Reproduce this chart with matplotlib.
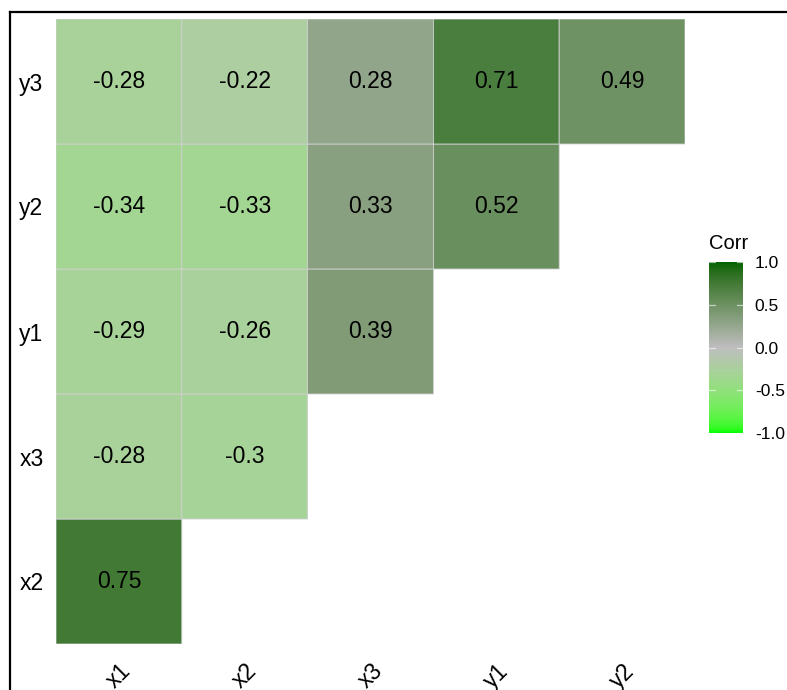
import numpy as np
import matplotlib
matplotlib.use("Agg")
import matplotlib.pyplot as plt
from matplotlib.colors import ListedColormap, to_rgb
from matplotlib.lines import Line2D

plt.rcParams["font.family"] = ["Liberation Sans", "DejaVu Sans"]

# Variables along each axis of the lower-triangle correlogram.
x_vars = ["x1", "x2", "x3", "y1", "y2"]
y_vars = ["x2", "x3", "y1", "y2", "y3"]

# Correlations, one list per row (bottom to top), left to right.
row_x2 = [0.75]
row_x3 = [-0.28, -0.30]
row_y1 = [-0.29, -0.26, 0.39]
row_y2 = [-0.34, -0.33, 0.33, 0.52]
row_y3 = [-0.28, -0.22, 0.28, 0.71, 0.49]
corr_rows = [row_x2, row_x3, row_y1, row_y2, row_y3]

legend_ticks = [-1.0, -0.5, 0.0, 0.5, 1.0]

W, H, DPI = 787, 690, 100

# R colour names used for the diverging scale
LOW, MID, HIGH = "#00FF00", "#BEBEBE", "#006400"

_M = np.array([[0.4124564, 0.3575761, 0.1804375],
               [0.2126729, 0.7151522, 0.0721750],
               [0.0193339, 0.1191920, 0.9503041]])
_WHITE = np.array([0.95047, 1.0, 1.08883])


def srgb_to_lab(rgb):
    c = np.asarray(rgb, float)
    lin = np.where(c <= 0.04045, c / 12.92, ((c + 0.055) / 1.055) ** 2.4)
    t = (lin @ _M.T) / _WHITE
    d = 6 / 29
    f = np.where(t > d ** 3, np.cbrt(t), t / (3 * d ** 2) + 4 / 29)
    return np.stack([116 * f[..., 1] - 16,
                     500 * (f[..., 0] - f[..., 1]),
                     200 * (f[..., 1] - f[..., 2])], -1)


def lab_to_srgb(lab):
    fy = (lab[..., 0] + 16) / 116
    f = np.stack([fy + lab[..., 1] / 500, fy, fy - lab[..., 2] / 200], -1)
    d = 6 / 29
    t = np.where(f > d, f ** 3, 3 * d ** 2 * (f - 4 / 29))
    lin = np.clip((t * _WHITE) @ np.linalg.inv(_M).T, 0, 1)
    c = np.where(lin <= 0.0031308, 12.92 * lin, 1.055 * lin ** (1 / 2.4) - 0.055)
    return np.clip(c, 0, 1)


def gradient2_cmap(n=256):
    # gradient2-style scale: interpolate in Lab around a midpoint of 0
    lo, mi, hi = (srgb_to_lab(to_rgb(c)) for c in (LOW, MID, HIGH))
    v = np.linspace(-1, 1, n)[:, None]
    lab = np.where(v < 0, mi + (-v) * (lo - mi), mi + v * (hi - mi))
    return ListedColormap(lab_to_srgb(lab))


cmap = gradient2_cmap()

n = len(y_vars)
mat = np.full((n, len(x_vars)), np.nan)
for r, row in enumerate(corr_rows):
    mat[r, :len(row)] = row
mat = np.ma.masked_invalid(mat)

fig = plt.figure(figsize=(W / DPI, H / DPI), dpi=DPI)


def px_axes(left, top, right, bottom):
    return fig.add_axes([left / W, 1 - bottom / H, (right - left) / W, (bottom - top) / H])


ax = px_axes(56, 19, 685, 644)
# pcolor drops masked cells entirely, so the empty upper triangle gets no outline
ax.pcolor(np.arange(len(x_vars) + 1) - 0.5, np.arange(n + 1) - 0.5, mat,
          cmap=cmap, vmin=-1, vmax=1, edgecolors="#D0D0D0", linewidth=0.6)
for r, row in enumerate(corr_rows):
    for j, v in enumerate(row):
        ax.text(j, r, f"{v:g}", ha="center", va="center", fontsize=16.5, color="black")

ax.set_xlim(-0.5, len(x_vars) - 0.5)
ax.set_ylim(-0.5, n - 0.5)
for s in ax.spines.values():
    s.set_visible(False)
ax.set_xticks(range(len(x_vars)))
ax.set_xticklabels(x_vars, rotation=45, ha="center", va="top", fontsize=16.5)
ax.set_yticks(range(n))
ax.set_yticklabels(y_vars, fontsize=16.5)
ax.tick_params(axis="x", length=0, pad=11)
ax.tick_params(axis="y", length=0, pad=9)

# colour bar legend
cax = px_axes(709, 262, 743, 433)
grad = np.linspace(-1, 1, 300)[:, None]
cax.imshow(grad, cmap=cmap, vmin=-1, vmax=1, origin="lower",
           extent=[0, 1, -1, 1], aspect="auto", interpolation="bilinear")
for t in legend_ticks:
    cax.plot([0, 0.18], [t, t], color="white", lw=0.9, alpha=0.6)
    cax.plot([0.82, 1], [t, t], color="white", lw=0.9, alpha=0.6)
cax.set_xlim(0, 1)
cax.set_ylim(-1, 1)
cax.set_xticks([])
cax.yaxis.tick_right()
cax.set_yticks(legend_ticks)
cax.set_yticklabels([f"{t:.1f}" for t in legend_ticks], fontsize=12.5)
cax.tick_params(axis="y", length=0, pad=8.5)
for s in cax.spines.values():
    s.set_visible(False)
fig.text(709 / W, 1 - 249 / H, "Corr", ha="left", va="baseline", fontsize=14.5)

# outer frame (top and left edges)
fig.add_artist(Line2D([9.5 / W, 1], [1 - 12 / H, 1 - 12 / H], color="black", lw=1.6))
fig.add_artist(Line2D([9.5 / W, 9.5 / W], [0, 1 - 12 / H], color="black", lw=1.6))

fig.savefig("out.png", dpi=DPI)
